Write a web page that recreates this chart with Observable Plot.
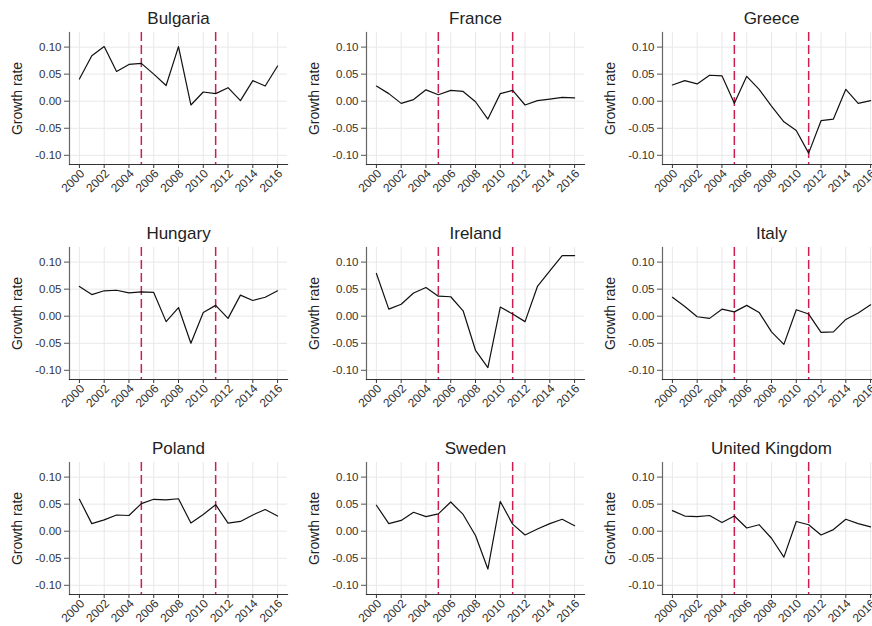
<!DOCTYPE html>
<html>
<head>
<meta charset="utf-8">
<script src="https://cdn.jsdelivr.net/npm/d3@7"></script>
<script src="https://cdn.jsdelivr.net/npm/@observablehq/plot@0.6"></script>
<style>
  html, body { margin: 0; padding: 0; background: #fff; overflow: hidden; }
  #wrap { position: relative; width: 872px; height: 626px; overflow: hidden; font-family: "Liberation Sans", Arial, sans-serif; }
  .panel { position: absolute; }
</style>
</head>
<body>
<div id="wrap"></div>
<script>
const years = [2000,2001,2002,2003,2004,2005,2006,2007,2008,2009,2010,2011,2012,2013,2014,2015,2016];
const countries = ["Bulgaria","France","Greece","Hungary","Ireland","Italy","Poland","Sweden","United Kingdom"];
const bulgaria = [0.041,0.084,0.101,0.055,0.068,0.070,0.050,0.029,0.101,-0.007,0.017,0.014,0.025,0.001,0.038,0.028,0.065];
const france   = [0.028,0.014,-0.004,0.003,0.021,0.012,0.020,0.018,-0.001,-0.033,0.014,0.020,-0.007,0.001,0.004,0.007,0.006];
const greece   = [0.030,0.038,0.032,0.048,0.047,-0.004,0.046,0.022,-0.009,-0.038,-0.054,-0.096,-0.036,-0.033,0.022,-0.004,0.001];
const hungary  = [0.055,0.040,0.047,0.048,0.043,0.045,0.044,-0.010,0.016,-0.050,0.007,0.020,-0.004,0.039,0.029,0.035,0.047];
const ireland  = [0.079,0.013,0.022,0.043,0.053,0.037,0.036,0.010,-0.063,-0.095,0.017,0.004,-0.010,0.055,0.084,0.112,0.112];
const italy    = [0.035,0.018,-0.001,-0.004,0.013,0.008,0.020,0.007,-0.029,-0.052,0.012,0.004,-0.030,-0.029,-0.006,0.006,0.021];
const poland   = [0.059,0.014,0.021,0.030,0.029,0.051,0.059,0.058,0.060,0.015,0.031,0.049,0.015,0.018,0.030,0.040,0.028];
const sweden   = [0.048,0.014,0.020,0.035,0.027,0.032,0.054,0.031,-0.008,-0.070,0.055,0.013,-0.007,0.004,0.014,0.022,0.010];
const uk       = [0.038,0.028,0.027,0.029,0.016,0.028,0.006,0.012,-0.013,-0.048,0.018,0.012,-0.007,0.003,0.022,0.014,0.008];
const seriesList = [bulgaria, france, greece, hungary, ireland, italy, poland, sweden, uk];
const xTicks = [2000,2002,2004,2006,2008,2010,2012,2014,2016];
const yTicks = [-0.10,-0.05,0.00,0.05,0.10];
const eventYears = [2005, 2011];
const yLabel = "Growth rate";

const FONT = "Liberation Sans, Arial, sans-serif";
const wrap = document.getElementById("wrap");
const colLeft = [9, 306, 602];
const rowTop = [0, 215, 430];

countries.forEach((name, i) => {
  const vals = seriesList[i];
  const data = years.map((yr, j) => ({year: yr, value: vals[j]}));
  const chart = Plot.plot({
    width: 298,
    height: 214,
    marginLeft: 60,
    marginRight: 20,
    marginTop: 32,
    marginBottom: 50,
    style: {fontFamily: FONT, fontSize: "11px", color: "#333", background: "transparent", overflow: "visible"},
    x: {domain: [1999.2, 2016.8]},
    y: {domain: [-0.117, 0.127]},
    marks: [
      Plot.gridX(xTicks, {stroke: "#e8e8e8", strokeOpacity: 1}),
      Plot.gridY(yTicks, {stroke: "#e8e8e8", strokeOpacity: 1}),
      Plot.axisY(yTicks, {tickFormat: d => d.toFixed(2), tickSize: 5, tickPadding: 3, stroke: "#555", fill: "#333", fontSize: 11.5,
        label: yLabel, labelAnchor: "center", labelArrow: "none"}),
      Plot.axisX(xTicks, {tickFormat: () => "", tickSize: 4, stroke: "#333", label: null}),
      Plot.axisX(xTicks, {tickFormat: d => String(d), tickSize: 0, tickPadding: 6, tickRotate: -45, textAnchor: "end", dx: 3, dy: 1, fill: "#333", fontSize: 12, label: null}),
      Plot.frame({anchor: "left", stroke: "#666", strokeWidth: 1.2}),
      Plot.frame({anchor: "bottom", stroke: "#333", strokeWidth: 1.2}),
      Plot.ruleX(eventYears, {stroke: "#cc1f4f", strokeWidth: 1.5, strokeDasharray: "9,4"}),
      Plot.line(data, {x: "year", y: "value", stroke: "#111", strokeWidth: 1.2}),
      Plot.text([name], {text: d => d, frameAnchor: "top", dy: -9, lineAnchor: "bottom", fontSize: 17, fill: "#222"})
    ]
  });
  chart.classList.add("panel");
  chart.style.left = colLeft[i % 3] + "px";
  chart.style.top = rowTop[Math.floor(i / 3)] + "px";
  wrap.appendChild(chart);
});
wrap.querySelectorAll("svg").forEach(svg => {
  svg.querySelectorAll("g[aria-label='y-axis label'] text").forEach(t => { t.setAttribute("font-size", "14"); t.style.fontSize = "14px"; t.setAttribute("fill", "#222"); });
});
</script>
</body>
</html>
